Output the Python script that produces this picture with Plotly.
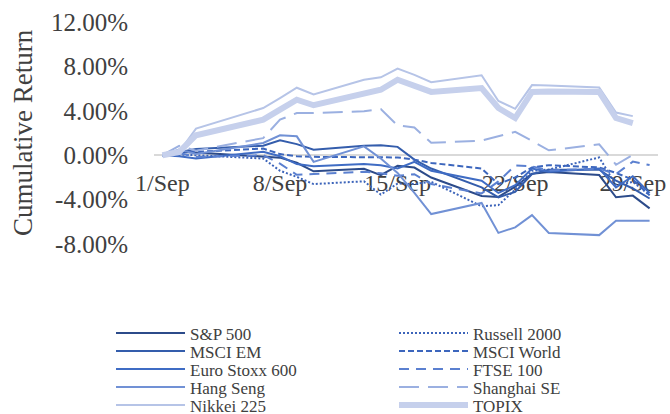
import plotly.graph_objects as go

# Trading days of September (day of month)
days = [1, 2, 3, 7, 8, 9, 10, 13, 14, 15, 16, 17, 20, 21, 22, 23, 24, 27, 28, 29, 30]

# Cumulative returns in percent
sp500 = [0.00, 0.28, 0.25, -0.09, -0.22, -0.68, -1.45, -1.22, -1.79, -0.96, -1.11,
         -2.01, -3.68, -3.76, -2.84, -1.67, -1.52, -1.79, -3.79, -3.64, -4.79]
russell2000 = [0.00, 0.05, 0.00, -0.30, -1.40, -1.95, -2.60, -2.35, -3.55, -2.55, -2.60,
               -2.40, -4.60, -4.50, -3.10, -1.40, -1.30, -0.20, -2.70, -2.40, -3.60]
msci_em = [0.00, 0.30, 0.55, 0.85, 1.35, 1.00, 0.50, 0.85, 0.90, 0.75, -0.40,
           -1.20, -2.90, -3.80, -3.30, -1.70, -1.30, -1.30, -2.30, -3.00, -3.90]
msci_world = [0.00, 0.30, 0.30, 0.60, 0.10, -0.10, -0.15, -0.20, -0.20, -0.20, -0.40,
              -0.70, -1.20, -2.60, -2.00, -1.10, -0.90, -1.10, -1.60, -2.20, -3.60]
euro_stoxx_600 = [0.00, -0.10, -0.30, 0.30, -0.10, -0.80, -1.00, -0.80, -0.90, -1.20, -0.60,
                  -1.40, -2.30, -3.40, -2.70, -1.20, -1.50, -1.20, -2.90, -1.90, -3.40]
ftse_100 = [0.00, 0.20, -0.16, 0.00, -0.76, -1.76, -1.69, -1.50, -1.62, -1.86, -1.71,
            -2.60, -3.44, -2.36, -0.93, -1.00, -1.38, -1.21, -1.70, -0.58, -0.89]
hang_seng = [0.00, 0.50, 0.10, 1.10, 1.80, 1.70, -0.60, 0.80, -0.30, -1.60, -3.40,
             -5.30, -4.30, -7.00, -6.50, -5.40, -7.00, -7.20, -5.90, -5.90, -5.90]
shanghai_se = [0.00, 0.84, 0.41, 1.54, 3.20, 3.80, 3.80, 3.95, 4.15, 2.68, 2.50,
               1.12, 1.31, 1.72, 2.10, 1.29, 0.44, 0.98, -0.86, 0.03, None]
nikkei_225 = [0.00, 0.30, 2.40, 4.25, 5.15, 6.08, 5.47, 6.79, 7.02, 7.80, 7.24,
              6.58, 7.20, 4.88, 4.18, 6.32, 6.29, 6.09, 3.84, 3.52, None]
topix = [0.00, 0.30, 1.80, 3.20, 4.10, 5.00, 4.50, 5.60, 5.90, 6.80, 6.30,
         5.70, 6.05, 4.25, 3.35, 5.70, 5.75, 5.70, 3.35, 2.90, None]

y_ticks = [-8, -4, 0, 4, 8, 12]
x_ticks = [1, 8, 15, 22, 29]
x_tick_labels = ["1/Sep", "8/Sep", "15/Sep", "22/Sep", "29/Sep"]
y_title = "Cumulative Return"

FONT = "Liberation Serif"
TEXT = "#404040"

# name, values, colour, width, dash
series = [
    ("S&P 500", sp500, "#2C4B8A", 2, "solid"),
    ("Russell 2000", russell2000, "#3C64BA", 2, "2px,2px"),
    ("MSCI EM", msci_em, "#345DAC", 2, "solid"),
    ("MSCI World", msci_world, "#3C66BD", 2, "6px,3px"),
    ("Euro Stoxx 600", euro_stoxx_600, "#3F6CC4", 2, "solid"),
    ("FTSE 100", ftse_100, "#5B80D0", 2, "10px,7px"),
    ("Hang Seng", hang_seng, "#7191D5", 2, "solid"),
    ("Shanghai SE", shanghai_se, "#9BB0E1", 2, "20px,9px"),
    ("Nikkei 225", nikkei_225, "#B6C4E7", 2, "solid"),
    ("TOPIX", topix, "#C6D0EC", 6, "solid"),
]

fig = go.Figure()

# Two-column legend, one legend box per entry
col_text_x = [190, 473]
row_y = [333.5, 351.5, 369.5, 387.5, 405.5]
legend_layouts = {}
for i, (name, vals, color, width, dash) in enumerate(series):
    lid = "legend" if i == 0 else f"legend{i + 1}"
    fig.add_trace(go.Scatter(
        x=days, y=vals, name=name, mode="lines",
        line=dict(color=color, width=width, dash=dash),
        connectgaps=False, legend=lid,
    ))
    row, col = divmod(i, 2)
    legend_layouts[lid] = dict(
        x=(col_text_x[col] - 79) / 670, y=1 - row_y[row] / 414,
        xref="container", yref="container",
        xanchor="left", yanchor="middle",
        bgcolor="rgba(0,0,0,0)", borderwidth=0,
        itemwidth=69,
        font=dict(family=FONT, size=17, color=TEXT),
    )

PLOT_L, PLOT_W = 154, 504

fig.update_layout(
    width=670, height=414,
    margin=dict(l=PLOT_L, r=670 - PLOT_L - PLOT_W, t=22, b=170, autoexpand=False),
    paper_bgcolor="white", plot_bgcolor="white",
    showlegend=True,
    **legend_layouts,
)

# Vertical axis title, rotated, left of the tick labels
fig.add_annotation(
    text=y_title, textangle=-90, showarrow=False,
    xref="paper", yref="paper", x=(23 - PLOT_L) / PLOT_W, y=0.5,
    xanchor="center", yanchor="middle",
    font=dict(family=FONT, size=27, color=TEXT),
)

fig.update_xaxes(
    range=[0.5, 30.5],
    tickmode="array", tickvals=x_ticks, ticktext=x_tick_labels,
    anchor="free", position=(0 - y_ticks[0]) / (y_ticks[-1] - y_ticks[0]),
    showgrid=False, zeroline=False, automargin=False,
    showline=True, linecolor="#D9D9D9", linewidth=2,
    ticks="outside", ticklen=6, tickcolor="rgba(0,0,0,0)", tickangle=0,
    tickfont=dict(family=FONT, size=24, color=TEXT),
    layer="below traces",
)

fig.update_yaxes(
    range=[y_ticks[0], y_ticks[-1]],
    tickmode="array", tickvals=y_ticks,
    ticktext=[f"{v:.2f}%" for v in y_ticks],
    showgrid=False, zeroline=False, showline=False, automargin=False,
    ticks="outside", ticklen=20, tickcolor="rgba(0,0,0,0)",
    tickfont=dict(family=FONT, size=25, color=TEXT),
)

fig.write_html("out.html")
